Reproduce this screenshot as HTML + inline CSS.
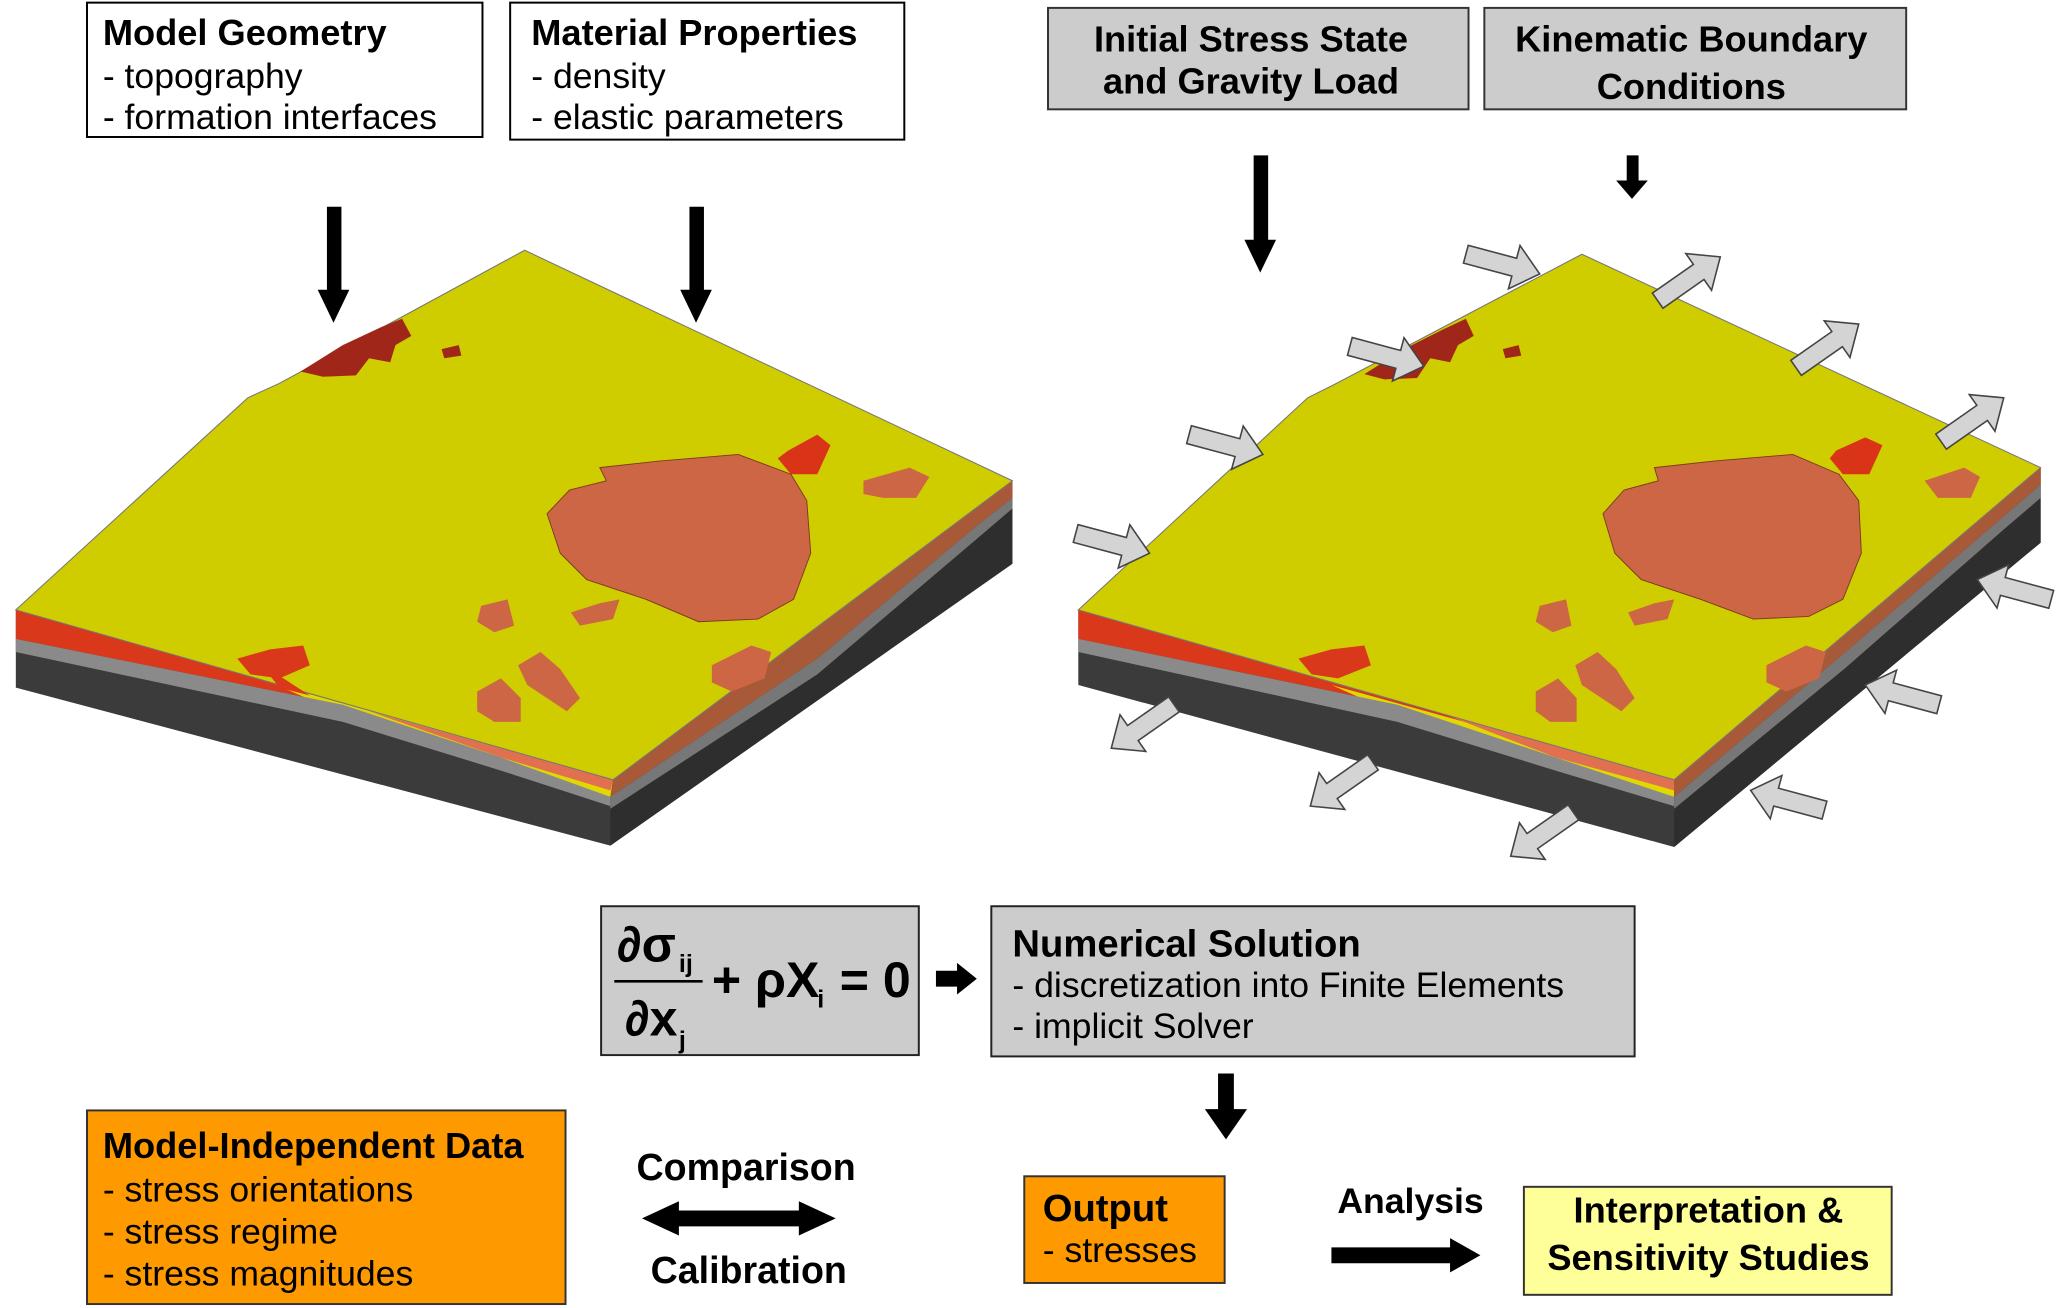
<!DOCTYPE html>
<html><head><meta charset="utf-8"><style>
html,body{margin:0;padding:0;background:#fff;}
svg{display:block}
text{font-family:"Liberation Sans",Arial,sans-serif;}
</style></head><body>
<svg width="2067" height="1308" viewBox="0 0 1568 993" preserveAspectRatio="none" xmlns="http://www.w3.org/2000/svg">
<defs>
<polygon id="ha" points="0,0 -20,-17 -20,-7 -58,-7 -58,7 -20,7 -20,17" fill="#d4d4d4" stroke="#444" stroke-width="1.2"/>
</defs>
<rect width="1568" height="993" fill="#fff"/>

<!-- top boxes -->
<rect x="66" y="2" width="300" height="102" fill="#fff" stroke="#000" stroke-width="1.5"/>
<text x="78" y="34" font-size="27.5" font-weight="bold">Model Geometry</text>
<text x="78" y="67" font-size="27">- topography</text>
<text x="78" y="98" font-size="27">- formation interfaces</text>
<rect x="387" y="2" width="299" height="104" fill="#fff" stroke="#000" stroke-width="1.5"/>
<text x="403" y="34" font-size="27.5" font-weight="bold">Material Properties</text>
<text x="403" y="67" font-size="27">- density</text>
<text x="403" y="98" font-size="27">- elastic parameters</text>
<rect x="795" y="6" width="319" height="77" fill="#cccccc" stroke="#333" stroke-width="1.5"/>
<text x="949" y="39" font-size="27.5" font-weight="bold" text-anchor="middle">Initial Stress State</text>
<text x="949" y="71" font-size="27.5" font-weight="bold" text-anchor="middle">and Gravity Load</text>
<rect x="1126" y="6" width="320" height="77" fill="#cccccc" stroke="#333" stroke-width="1.5"/>
<text x="1283" y="39" font-size="27.5" font-weight="bold" text-anchor="middle">Kinematic Boundary</text>
<text x="1283" y="75" font-size="27.5" font-weight="bold" text-anchor="middle">Conditions</text>

<!-- black down arrows -->
<g fill="#000">
<polygon points="248,157 259,157 259,220 265,220 253,245 241,220 248,220"/>
<polygon points="523,157 534,157 534,220 540,220 528,245 516,220 523,220"/>
<polygon points="951,118 962,118 962,182 968,182 956,207 944,182 951,182"/>
<polygon points="1234,118 1243,118 1243,137 1250,137 1238,151 1226,137 1234,137"/>
</g>

<!-- LEFT BLOCK -->
<g>
<polygon points="12,463 465,592 768,365 768,428 463,642 12,522" fill="#3b3b3b"/>
<polygon points="463,592 768,365 768,428 463,642" fill="#2e2e2e"/>
<polygon points="12,463 465,592 463,605 380,575 260,535 12,485" fill="#d9381a"/>
<polygon points="210,520 300,545 465,592 463,605 300,560" fill="#e0d800"/>
<polygon points="280,540 465,592 463,600 380,575" fill="#e07050"/>
<polygon points="12,485 260,535 380,575 463,605 463,612 380,585 260,548 12,495" fill="#8a8a8a"/>
<polygon points="465,592 768,365 768,378 740,400 620,500 463,605" fill="#a85a38"/>
<polygon points="463,605 620,500 740,400 768,378 768,386 740,410 620,512 463,614" fill="#777"/>
<polygon points="12,463 188,302 212,291 398,190 768,365 465,592" fill="#cfcc00" stroke="#777" stroke-width="0.8"/>
<polygon points="228,282 260,262 290,248 305,242 312,255 300,262 296,275 280,272 270,285 245,286" fill="#a0261a"/>
<polygon points="335,265 348,262 350,270 337,272" fill="#a0261a"/>
<polygon points="598,342 620,330 630,338 620,360 600,360 590,348" fill="#d93418"/>
<path d="M455,355 L500,350 L560,345 L600,360 L612,380 L615,420 L602,455 L575,470 L530,472 L490,455 L445,440 L425,420 L415,390 L432,372 L460,365 Z" fill="#cc6644" stroke="#7a3a20" stroke-width="0.7"/>
<path d="M655,365 L690,355 L705,362 L695,378 L670,378 L655,375 Z" fill="#cc6644"/>
<path d="M365,460 L385,455 L390,475 L375,480 L362,472 Z" fill="#cc6644"/>
<path d="M433,465 L455,458 L470,455 L465,470 L440,475 Z" fill="#cc6644"/>
<path d="M393,505 L410,495 L425,508 L440,530 L430,540 L415,530 L400,520 Z" fill="#cc6644"/>
<path d="M362,525 L380,515 L395,530 L395,548 L375,548 L362,540 Z" fill="#cc6644"/>
<path d="M540,505 L570,490 L585,495 L580,515 L555,525 L540,518 Z" fill="#cc6644"/>
<path d="M180,500 L205,493 L230,490 L235,505 L212,515 L190,512 Z" fill="#d9381a"/>
<path d="M200,507 L215,515 L235,528 L212,522 Z" fill="#d9381a"/>
</g>

<!-- RIGHT BLOCK -->
<g>
<polygon points="818,463 1270,592 1548,355 1548,412 1270,643 818,520" fill="#3b3b3b"/>
<polygon points="1270,592 1548,355 1548,412 1270,643" fill="#2e2e2e"/>
<polygon points="818,463 1270,592 1270,605 1180,575 1060,535 818,485" fill="#d9381a"/>
<polygon points="1010,520 1100,545 1270,592 1270,605 1100,560" fill="#e0d800"/>
<polygon points="1090,540 1270,592 1270,600 1180,575" fill="#e07050"/>
<polygon points="818,485 1060,535 1180,575 1270,605 1270,612 1180,585 1060,548 818,495" fill="#8a8a8a"/>
<polygon points="1270,592 1548,355 1548,368 1520,392 1400,495 1270,605" fill="#a85a38"/>
<polygon points="1270,605 1400,495 1520,392 1548,368 1548,378 1520,402 1400,507 1270,614" fill="#777"/>
<polygon points="818,463 992,302 1012,292 1200,193 1548,355 1270,592" fill="#cfcc00" stroke="#777" stroke-width="0.8"/>
<polygon points="1035,284 1065,265 1095,250 1112,242 1118,255 1106,262 1100,275 1085,272 1075,287 1050,288" fill="#a0261a"/>
<polygon points="1140,265 1152,262 1154,270 1142,272" fill="#a0261a"/>
<polygon points="1393,342 1415,332 1428,338 1418,360 1398,360 1388,348" fill="#d93418"/>
<path d="M1255,355 L1300,350 L1360,345 L1395,360 L1410,380 L1412,420 L1398,455 L1372,468 L1330,470 L1290,455 L1245,440 L1225,420 L1216,390 L1232,372 L1258,365 Z" fill="#cc6644" stroke="#7a3a20" stroke-width="0.7"/>
<path d="M1460,365 L1490,355 L1502,362 L1495,378 L1470,378 Z" fill="#cc6644"/>
<path d="M1168,460 L1188,455 L1192,475 L1178,480 L1165,472 Z" fill="#cc6644"/>
<path d="M1235,465 L1255,458 L1270,455 L1265,470 L1240,475 Z" fill="#cc6644"/>
<path d="M1195,505 L1212,495 L1226,508 L1240,530 L1230,540 L1215,530 L1200,520 Z" fill="#cc6644"/>
<path d="M1165,525 L1182,515 L1196,530 L1196,548 L1176,548 L1165,540 Z" fill="#cc6644"/>
<path d="M1340,505 L1370,490 L1385,495 L1380,515 L1355,525 L1340,518 Z" fill="#cc6644"/>
<path d="M985,500 L1010,493 L1035,490 L1040,505 L1015,515 L995,512 Z" fill="#d9381a"/>
</g>

<!-- hollow arrows -->
<use href="#ha" transform="translate(1305,195) rotate(-35)"/>
<use href="#ha" transform="translate(1410,246) rotate(-35)"/>
<use href="#ha" transform="translate(1520,302) rotate(-35)"/>
<use href="#ha" transform="translate(1168,208) rotate(15)"/>
<use href="#ha" transform="translate(1080,278) rotate(15)"/>
<use href="#ha" transform="translate(958,345) rotate(15)"/>
<use href="#ha" transform="translate(872,420) rotate(15)"/>
<use href="#ha" transform="translate(843,568) rotate(145)"/>
<use href="#ha" transform="translate(994,612) rotate(145)"/>
<use href="#ha" transform="translate(1146,650) rotate(145)"/>
<use href="#ha" transform="translate(1500,440) rotate(195)"/>
<use href="#ha" transform="translate(1415,520) rotate(195)"/>
<use href="#ha" transform="translate(1328,600) rotate(195)"/>

<!-- formula -->
<rect x="456" y="688" width="241" height="113" fill="#cccccc" stroke="#222" stroke-width="1.5"/>
<g font-weight="bold">
<text x="468" y="730" font-size="38" font-family="Liberation Serif,serif">∂σ</text>
<text x="515" y="738" font-size="19" font-family="Liberation Serif,serif">ij</text>
<line x1="466" y1="745" x2="533" y2="745" stroke="#000" stroke-width="2"/>
<text x="474" y="786" font-size="38" font-family="Liberation Serif,serif">∂x</text>
<text x="515" y="796" font-size="19" font-family="Liberation Serif,serif">j</text>
<text x="540" y="757" font-size="38" font-family="Liberation Serif,serif">+ ρX</text>
<text x="620" y="765" font-size="19" font-family="Liberation Serif,serif">i</text>
<text x="637" y="757" font-size="38" font-family="Liberation Serif,serif">= 0</text>
</g>
<polygon points="710,737 726,737 726,731 741,743 726,755 726,749 710,749" fill="#000"/>

<rect x="752" y="688" width="488" height="114" fill="#cccccc" stroke="#222" stroke-width="1.5"/>
<text x="768" y="726" font-size="29" font-weight="bold">Numerical Solution</text>
<text x="768" y="757" font-size="27">- discretization into Finite Elements</text>
<text x="768" y="788" font-size="27">- implicit Solver</text>

<polygon points="924,815 936,815 936,842 946,842 930,865 914,842 924,842" fill="#000"/>

<rect x="777" y="893" width="152" height="81" fill="#ff9900" stroke="#333" stroke-width="1.5"/>
<text x="791" y="927" font-size="29" font-weight="bold">Output</text>
<text x="791" y="958" font-size="27">- stresses</text>

<text x="1070" y="921" font-size="27" font-weight="bold" text-anchor="middle">Analysis</text>
<polygon points="1010,947 1100,947 1100,940 1123,953 1100,966 1100,959 1010,959" fill="#000"/>

<rect x="1156" y="901" width="279" height="82" fill="#ffff99" stroke="#333" stroke-width="1.5"/>
<text x="1296" y="928" font-size="27.5" font-weight="bold" text-anchor="middle">Interpretation &amp;</text>
<text x="1296" y="964" font-size="27.5" font-weight="bold" text-anchor="middle">Sensitivity Studies</text>

<rect x="66" y="843" width="363" height="147" fill="#ff9900" stroke="#333" stroke-width="1.5"/>
<text x="78" y="879" font-size="27.5" font-weight="bold">Model-Independent Data</text>
<text x="78" y="912" font-size="27">- stress orientations</text>
<text x="78" y="944" font-size="27">- stress regime</text>
<text x="78" y="976" font-size="27">- stress magnitudes</text>

<text x="566" y="896" font-size="28.5" font-weight="bold" text-anchor="middle">Comparison</text>
<polygon points="487,925 515,912 515,919 606,919 606,912 634,925 606,938 606,931 515,931 515,938" fill="#000"/>
<text x="568" y="974" font-size="28.5" font-weight="bold" text-anchor="middle">Calibration</text>
</svg>
</body></html>
